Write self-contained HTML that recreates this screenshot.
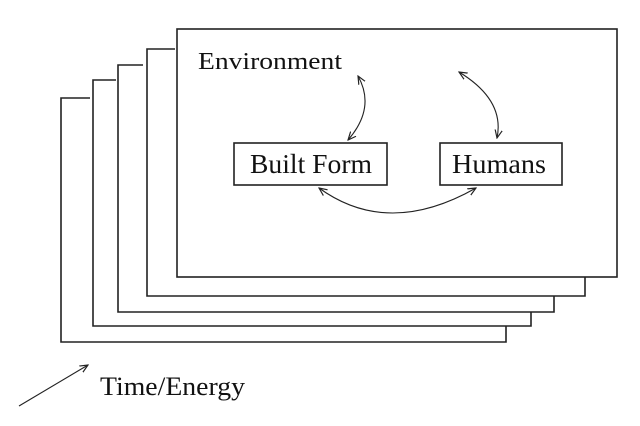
<!DOCTYPE html>
<html><head><style>html,body{margin:0;padding:0;background:#fff}svg{display:block}</style></head>
<body>
<svg width="640" height="426" viewBox="0 0 640 426" xmlns="http://www.w3.org/2000/svg">
<defs>
<marker id="a" viewBox="0 0 10 10" refX="9" refY="5" markerWidth="9" markerHeight="9" orient="auto-start-reverse" markerUnits="userSpaceOnUse">
<path d="M0,1 L9,5 L0,9" fill="none" stroke="#222" stroke-width="1.3"/>
</marker>
</defs>
<g fill="none" stroke="#222" stroke-width="1.6">
<polyline points="90,98 61,98 61,342 506,342 506,326"/>
<polyline points="116,80 93,80 93,326 531,326 531,312"/>
<polyline points="143,65 118,65 118,312 554,312 554,296"/>
<polyline points="175,49 147,49 147,296 585,296 585,277"/>
<rect x="177" y="29" width="440" height="248"/>
<rect x="234" y="143" width="153" height="42"/>
<rect x="440" y="143" width="122" height="42"/>
</g>
<g fill="none" stroke="#222" stroke-width="1.1">
<path d="M358,76 Q376,108 348,140" marker-start="url(#a)" marker-end="url(#a)"/>
<path d="M459,72 Q505,100 497,138" marker-start="url(#a)" marker-end="url(#a)"/>
<path d="M319,188 Q388,238 476,188" marker-start="url(#a)" marker-end="url(#a)"/>
<path d="M19,406 L88,365" marker-end="url(#a)"/>
</g>
<g font-family="Liberation Serif, serif" fill="#111">
<text x="198" y="69" font-size="24" textLength="144" lengthAdjust="spacingAndGlyphs">Environment</text>
<text x="250" y="173" font-size="27" textLength="122" lengthAdjust="spacingAndGlyphs">Built Form</text>
<text x="452" y="173" font-size="27" textLength="94" lengthAdjust="spacingAndGlyphs">Humans</text>
<text x="100" y="395" font-size="26" textLength="145" lengthAdjust="spacingAndGlyphs">Time/Energy</text>
</g>
</svg>
</body></html>
